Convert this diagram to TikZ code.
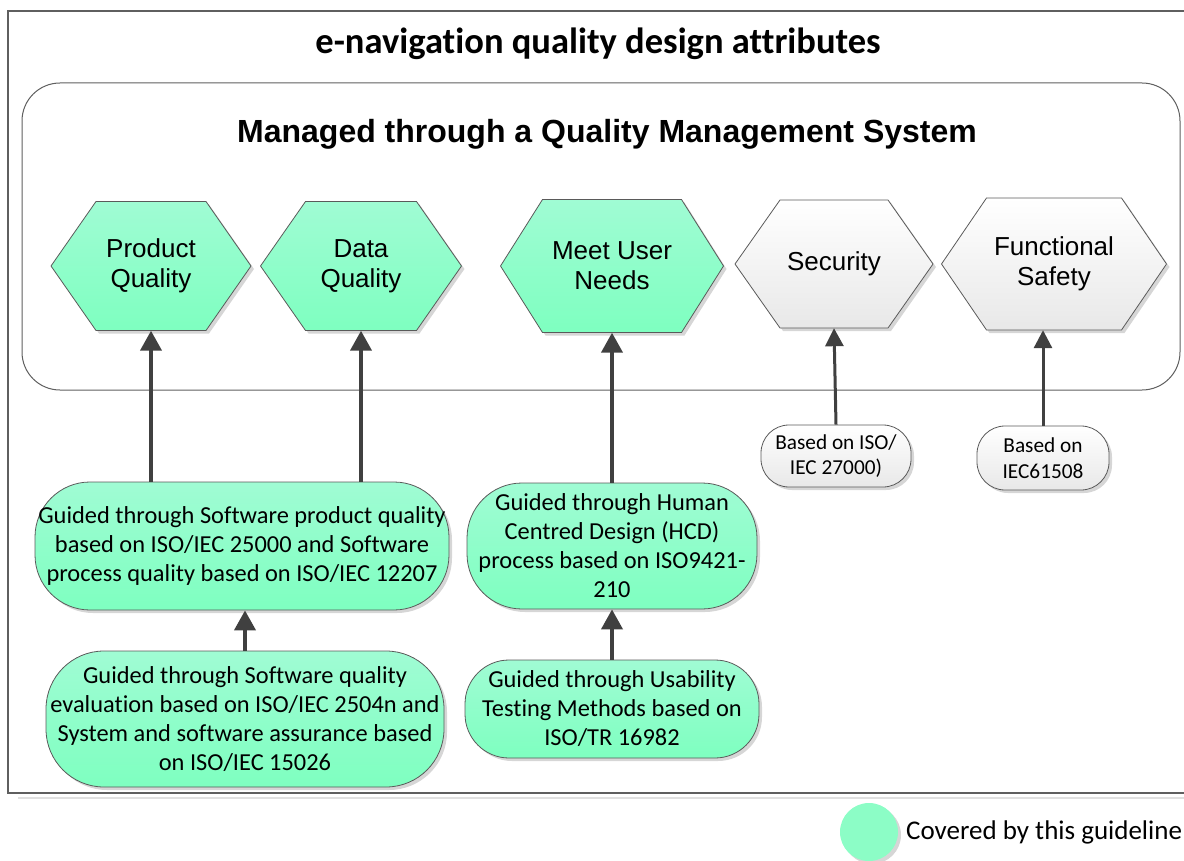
\documentclass[tikz,border=0pt]{standalone}
\usepackage{fontspec}
\setmainfont{Carlito}[Ligatures=NoCommon]
\newfontfamily\arialf{Liberation Sans}
\usetikzlibrary{arrows.meta,shadows}
\definecolor{grtop}{RGB}{160,252,212}
\definecolor{grbot}{RGB}{126,255,192}
\definecolor{grmid}{RGB}{140,253,198}
\definecolor{edgec}{RGB}{90,90,90}
\definecolor{arrc}{RGB}{64,64,64}
\definecolor{framec}{RGB}{95,95,95}
\newcommand\hexshape[8]{%
  \path[hexline,#7] ({#2-#4/2},#3) -- ({#2-#4/2+#6},{#3-#5/2}) -- ({#2+#4/2-#6},{#3-#5/2}) -- ({#2+#4/2},#3) -- ({#2+#4/2-#6},{#3+#5/2}) -- ({#2-#4/2+#6},{#3+#5/2}) -- cycle;
  \node[hextext,minimum width=#4pt,minimum height=#5pt] (#1) at (#2,#3) {#8};}
\begin{document}
\begin{tikzpicture}[x=1pt,y=-1pt,
  shd/.style={drop shadow={shadow xshift=3pt,shadow yshift=-3pt,fill=black!16,opacity=1}},
  greenfill/.style={top color=grtop,bottom color=grbot},
  grayfill/.style={top color=white,bottom color=black!9},
  hexline/.style={draw=edgec,line width=0.8pt,shd},
  hextext/.style={font=\arialf\fontsize{26}{30}\selectfont,align=center,inner sep=0pt},
  boxtext/.style={font=\fontsize{24.4}{29}\selectfont},
  smalltext/.style={font=\fontsize{21.3}{25.5}\selectfont},
  stadium/.style={draw=edgec,line width=0.8pt,shd,inner sep=0pt,align=center},
  arrowline/.style={draw=arrc,line width=4pt,-{Triangle[width=21pt,length=20pt]}},
  thinarrow/.style={draw=arrc,line width=3pt,-{Triangle[width=18pt,length=18pt]}},
]
\useasboundingbox (0,0) rectangle (1184,861);
% outer frame
\draw[black!12,line width=1.5pt] (18,798) -- (1200,798);
\draw[framec,line width=1.2pt] (1200,11) -- (8,11) -- (8,793) -- (1200,793);
\node[anchor=base,font=\bfseries\fontsize{36.5}{42}\selectfont] (title) at (598,54) {e-navigation quality design attributes};
% QMS container
\draw[framec,line width=1pt,rounded corners=38pt] (22,83) rectangle (1180,390);
\node[anchor=base,font=\arialf\bfseries\fontsize{32}{38}\selectfont] (qms) at (607,143) {Managed through a Quality Management System};
% hexagons
\hexshape{pq}{151}{266}{200}{129}{45}{greenfill}{Product\\Quality}
\hexshape{dq}{361}{266}{201}{129}{45}{greenfill}{Data\\Quality}
\hexshape{mun}{612}{266}{223}{133}{42}{greenfill}{Meet User\\Needs}
\hexshape{sec}{834}{264}{198}{128}{45}{grayfill}{Security}
\hexshape{fs}{1054}{264}{225}{132}{45}{grayfill}{Functional\\Safety}
% boxes
\node[stadium,greenfill,boxtext,minimum width=414pt,minimum height=128pt,rounded corners=55pt] (b1) at (242,546)
  {Guided through Software product quality\\based on ISO/IEC 25000 and Software\\process quality based on ISO/IEC 12207};
\node[stadium,greenfill,boxtext,minimum width=290pt,minimum height=126pt,rounded corners=55pt] (b2) at (612,546)
  {Guided through Human\\Centred Design (HCD)\\process based on ISO9421-\\210};
\node[stadium,greenfill,boxtext,minimum width=398pt,minimum height=136pt,rounded corners=58pt] (b3) at (245,719)
  {Guided through Software quality\\evaluation based on ISO/IEC 2504n and\\System and software assurance based\\on ISO/IEC 15026};
\node[stadium,greenfill,boxtext,minimum width=294pt,minimum height=98pt,rounded corners=44pt] (b4) at (612,709)
  {Guided through Usability\\Testing Methods based on\\ISO/TR 16982};
\node[stadium,grayfill,smalltext,minimum width=150pt,minimum height=62pt,rounded corners=28pt] (b5) at (836,456)
  {Based on ISO/\\IEC 27000)};
\node[stadium,grayfill,smalltext,minimum width=132pt,minimum height=64pt,rounded corners=28pt] (b6) at (1043,458)
  {Based on\\IEC61508};
% arrows
\draw[arrowline] (pq.south |- b1.north) -- (pq.south);
\draw[arrowline] (dq.south |- b1.north) -- (dq.south);
\draw[arrowline] (b2.north) -- (mun.south);
\draw[thinarrow] (b5.north) -- (sec.south);
\draw[thinarrow] (b6.north) -- (b6.north |- fs.south);
\draw[arrowline] (b3.north) -- (b3.north |- b1.south);
\draw[arrowline] (b4.north) -- (b2.south);
% legend
\node[circle,fill=grmid,minimum size=58pt,inner sep=0pt,shd] (legc) at (869,832) {};
\node[anchor=west,inner sep=0pt,font=\fontsize{27}{31}\selectfont] (legt) at (906,832) {Covered by this guideline};
\end{tikzpicture}
\end{document}
